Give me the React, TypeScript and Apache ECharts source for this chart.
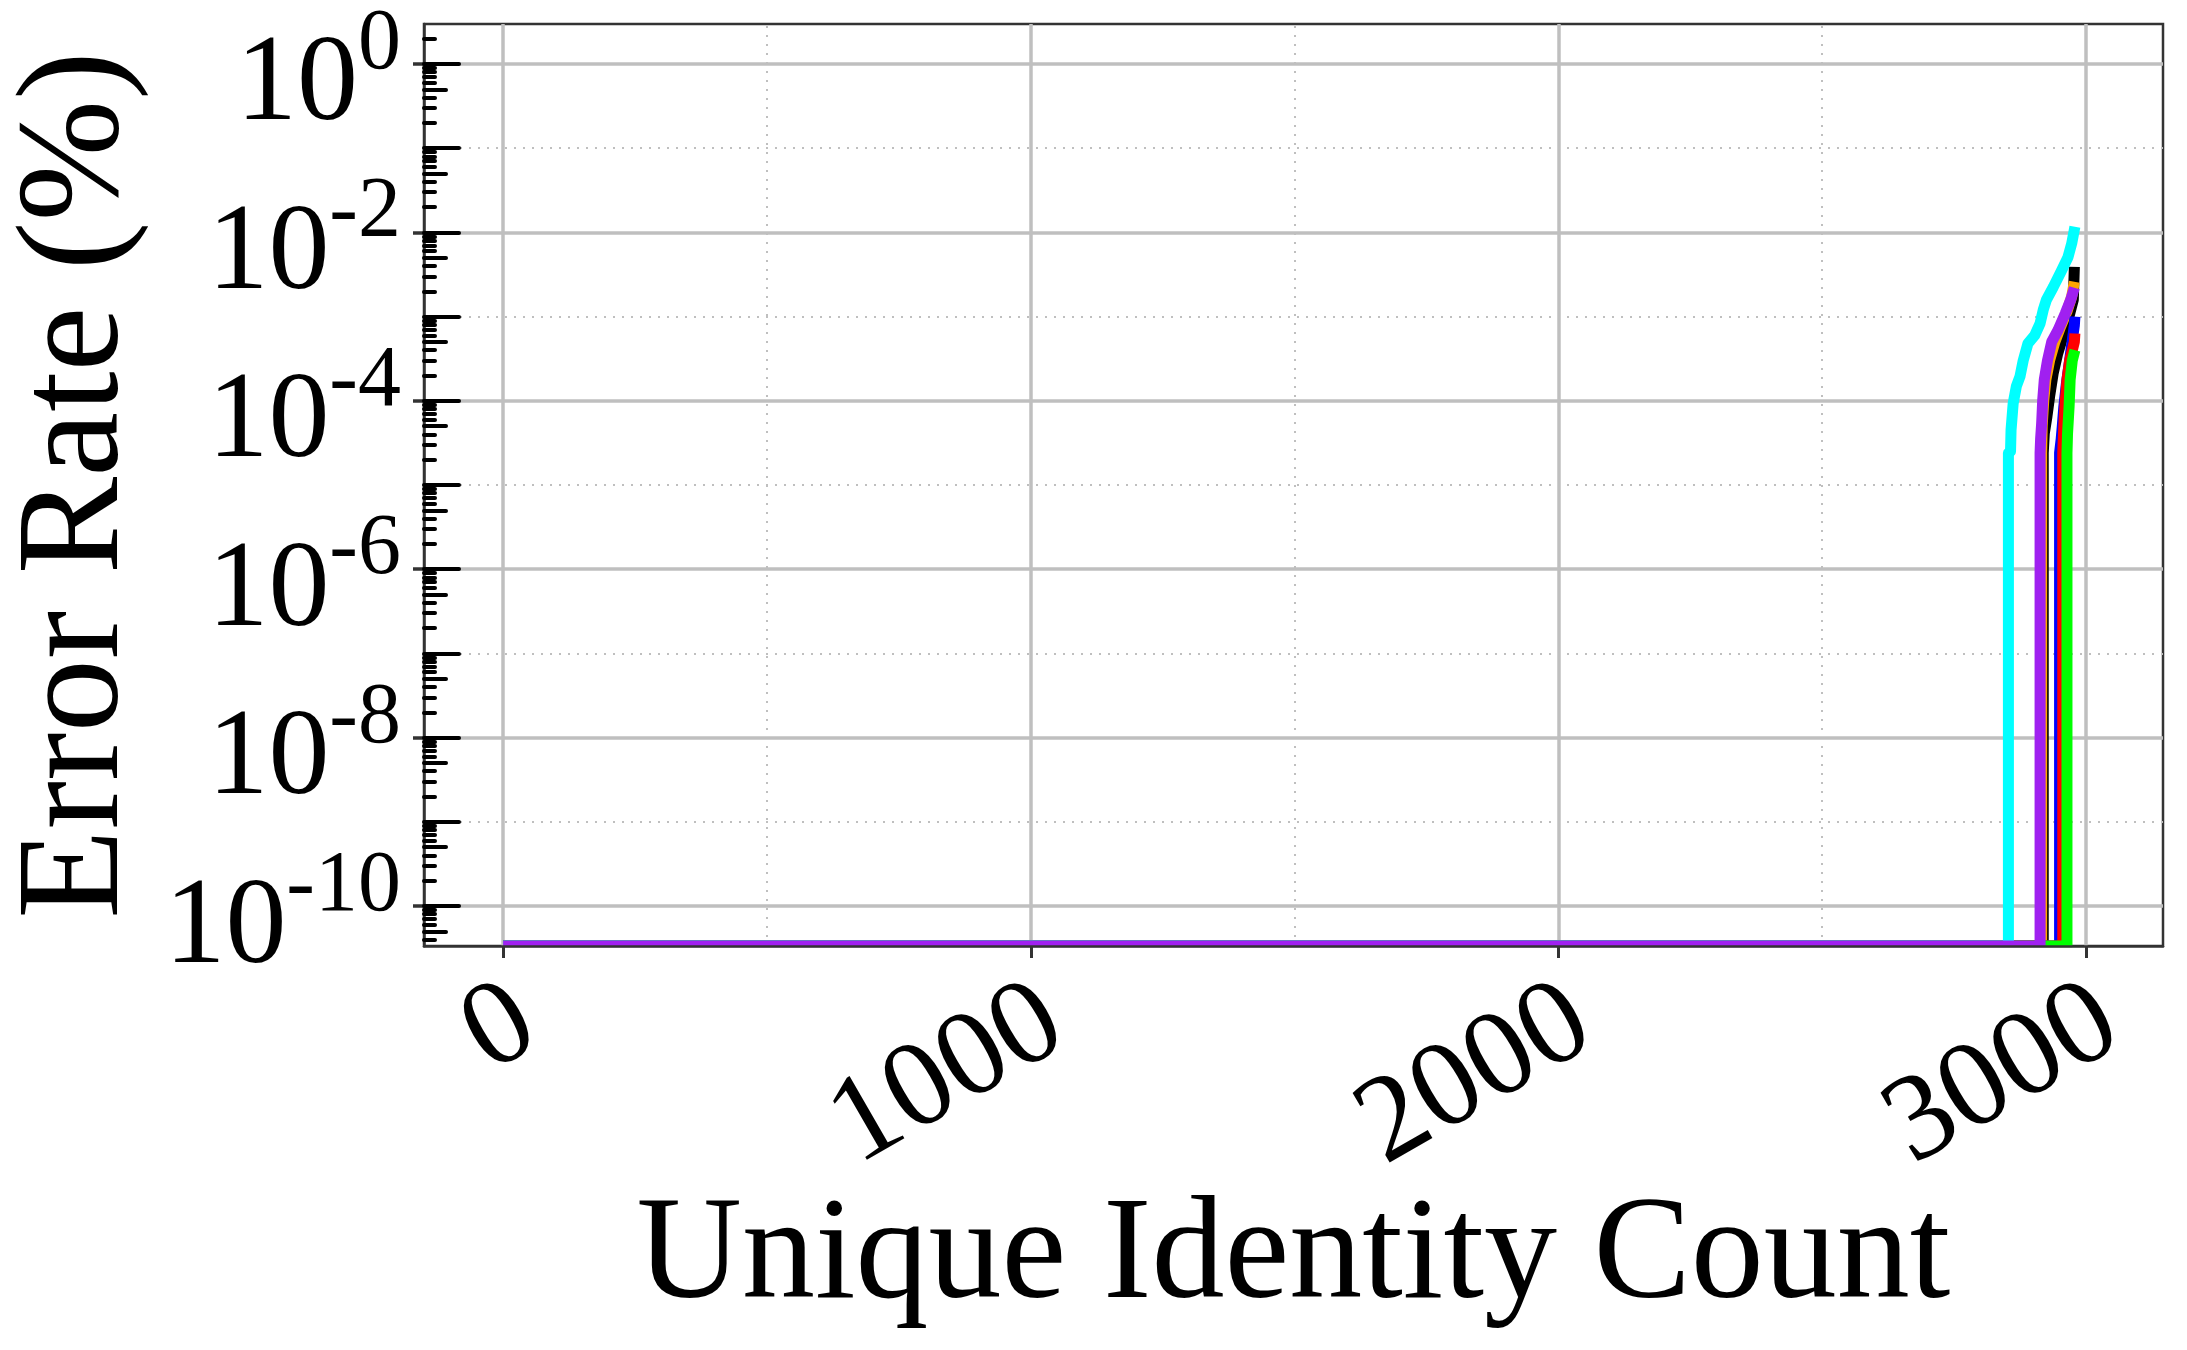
import React, { useEffect, useRef } from "react";
import * as echarts from "echarts";

const FONT = "'Liberation Serif', 'Times New Roman', serif";

// axis ranges (log axis on y)
const X_MIN = -150;
const X_MAX = 3146;
const Y_MIN = Math.pow(10, -10.475);
const Y_MAX = Math.pow(10, 0.475);

// ticks / grid
const xTicks = [0, 1000, 2000, 3000];
const xMinorGrid = [500, 1500, 2500];
const yLabelTicks = [1e-10, 1e-8, 1e-6, 1e-4, 1e-2, 1];
const yDecades = [1e-10, 1e-9, 1e-8, 1e-7, 1e-6, 1e-5, 1e-4, 1e-3, 1e-2, 1e-1, 1];
const yMinorGrid = [1e-9, 1e-7, 1e-5, 1e-3, 1e-1];
const yHalfTicks = [5e-11, 5e-10, 5e-9, 5e-8, 5e-7, 5e-6, 5e-5, 5e-4, 5e-3, 5e-2, 5e-1];
const minorMultipliers = [2, 3, 4, 6, 7, 8, 9];
const minorDecades = [1e-11, 1e-10, 1e-9, 1e-8, 1e-7, 1e-6, 1e-5, 1e-4, 1e-3, 1e-2, 1e-1, 1];

// series (x = identity index, y = error rate %, 0 = no error)
const blackX = [0, 2919, 2919, 2921, 2926, 2931, 2938, 2946, 2954, 2966, 2976, 2978];
const blackY = [0, 0, 2.4e-5, 4.1e-5, 6.5e-5, 1.12e-4, 2.14e-4, 3.55e-4, 5.2e-4, 9.1e-4, 1.58e-3, 3.9e-3];

const orangeX = [0, 2916, 2916, 2917, 2920, 2924, 2931, 2941, 2952, 2964, 2973, 2978];
const orangeY = [0, 0, 2.4e-5, 5.0e-5, 1.02e-4, 1.78e-4, 3.0e-4, 5.0e-4, 7.6e-4, 1.15e-3, 1.74e-3, 2.6e-3];

const blueX = [0, 2950, 2950, 2953, 2955, 2958, 2963, 2969, 2974, 2978, 2979];
const blueY = [0, 0, 2.4e-5, 3.5e-5, 4.9e-5, 8.5e-5, 1.62e-4, 3.0e-4, 5.2e-4, 7.9e-4, 1.0e-3];

const redX = [0, 2956, 2956, 2957, 2958, 2960, 2964, 2969, 2975, 2978, 2979];
const redY = [0, 0, 2.4e-5, 3.5e-5, 5.0e-5, 8.5e-5, 1.78e-4, 3.0e-4, 4.2e-4, 5.0e-4, 6.3e-4];

const greenX = [0, 2964, 2964, 2965, 2968, 2970, 2974, 2979];
const greenY = [0, 0, 2.4e-5, 4.0e-5, 8.5e-5, 1.78e-4, 3.0e-4, 4.0e-4];

const cyanX = [0, 2853, 2853, 2857, 2858, 2862, 2868, 2875, 2881, 2890, 2903, 2913, 2919, 2925, 2938, 2954, 2966, 2973, 2979];
const cyanY = [0, 0, 2.4e-5, 2.5e-5, 4.5e-5, 9.3e-5, 1.48e-4, 1.95e-4, 3.0e-4, 4.8e-4, 6.0e-4, 8.3e-4, 1.2e-3, 1.58e-3, 2.24e-3, 3.55e-3, 5.1e-3, 7.4e-3, 1.17e-2];

const purpleX = [0, 2913, 2913, 2914, 2916, 2918, 2921, 2927, 2935, 2947, 2961, 2971, 2978];
const purpleY = [0, 0, 2.4e-5, 3.5e-5, 5.4e-5, 1.02e-4, 1.78e-4, 3.0e-4, 5.0e-4, 6.9e-4, 1.1e-3, 1.58e-3, 2.2e-3];

const seriesDefs = [
  { name: "black", color: "#000000", xs: blackX, ys: blackY },
  { name: "orange", color: "#ffa500", xs: orangeX, ys: orangeY },
  { name: "blue", color: "#0000ff", xs: blueX, ys: blueY },
  { name: "red", color: "#ff0000", xs: redX, ys: redY },
  { name: "green", color: "#00ff00", xs: greenX, ys: greenY },
  { name: "cyan", color: "#00ffff", xs: cyanX, ys: cyanY },
  { name: "purple", color: "#a020f0", xs: purpleX, ys: purpleY },
];

const GRID_COLOR = "#bfbfbf";
const AXIS_COLOR = "#333333";
const LINE_W = 11;

const GRID_LEFT = 424;
const GRID_RIGHT = 24;
const GRID_TOP = 24;
const GRID_BOTTOM = 404;
const CHART_W = 2187;
const CHART_H = 1350;

function buildOption() {
  const smallTicks: number[] = [];
  minorDecades.forEach((d) => minorMultipliers.forEach((m) => smallTicks.push(d * m)));

  const majorLine = { color: GRID_COLOR, width: 3.5, type: "solid" };
  const minorLine = { color: GRID_COLOR, width: 2, type: [2, 7] };

  const markData: any[] = [];
  xTicks.forEach((v) => markData.push({ xAxis: v, lineStyle: majorLine }));
  xMinorGrid.forEach((v) => markData.push({ xAxis: v, lineStyle: minorLine }));
  yLabelTicks.forEach((v) => markData.push({ yAxis: v, lineStyle: majorLine }));
  yMinorGrid.forEach((v) => markData.push({ yAxis: v, lineStyle: minorLine }));

  const innerAxis = (values: number[], length: number) => ({
    type: "log",
    logBase: 10,
    min: Y_MIN,
    max: Y_MAX,
    position: "left",
    offset: 0,
    z: 10,
    axisLine: { show: false, onZero: false },
    axisLabel: { show: false },
    splitLine: { show: false },
    minorTick: { show: false },
    axisTick: {
      show: true,
      inside: true,
      customValues: values,
      length,
      lineStyle: { color: "#000000", width: 4, cap: "round" },
    },
  });

  const plotBottom = CHART_H - GRID_BOTTOM;

  return {
    animation: false,
    backgroundColor: "#ffffff",
    grid: {
      left: GRID_LEFT,
      right: GRID_RIGHT,
      top: GRID_TOP,
      bottom: GRID_BOTTOM,
      show: true,
      borderColor: AXIS_COLOR,
      borderWidth: 2.5,
      backgroundColor: "transparent",
      containLabel: false,
      outerBoundsMode: "none",
    },
    // white strip just below the bottom spine (matplotlib clips lines at the axes edge)
    graphic: [
      {
        type: "rect",
        silent: true,
        z: 8,
        shape: { x: GRID_LEFT + 1.5, y: plotBottom + 1.3, width: CHART_W - GRID_LEFT - GRID_RIGHT - 3, height: 6 },
        style: { fill: "#ffffff" },
      },
    ],
    xAxis: {
      type: "value",
      min: X_MIN,
      max: X_MAX,
      position: "bottom",
      z: 10,
      axisLine: { show: true, onZero: false, lineStyle: { color: AXIS_COLOR, width: 2.5 } },
      axisTick: { show: true, customValues: xTicks, length: 12, lineStyle: { color: AXIS_COLOR, width: 3 } },
      axisLabel: {
        customValues: xTicks,
        formatter: (v: number) => String(v),
        rotate: 30,
        fontSize: 123,
        fontFamily: FONT,
        color: "#000000",
        align: "right",
        verticalAlign: "top",
        lineHeight: 76,
        margin: 27.5,
        hideOverlap: false,
      },
      splitLine: { show: false },
      name: "Unique Identity Count",
      nameLocation: "middle",
      nameGap: 229,
      nameMoveOverlap: false,
      nameTextStyle: { fontSize: 146, fontFamily: FONT, color: "#000000" },
    },
    yAxis: [
      {
        type: "log",
        logBase: 10,
        min: Y_MIN,
        max: Y_MAX,
        position: "left",
        z: 10,
        axisLine: { show: true, onZero: false, lineStyle: { color: AXIS_COLOR, width: 2.5 } },
        axisTick: { show: true, customValues: yLabelTicks, length: 11, lineStyle: { color: AXIS_COLOR, width: 3.5 } },
        axisLabel: {
          customValues: yLabelTicks,
          margin: 23,
          formatter: (v: number) => {
            const e = Math.round(Math.log10(v));
            return `{b|10}{s|${e}}`;
          },
          rich: {
            b: { fontSize: 122, lineHeight: 90, fontFamily: FONT, color: "#000000", padding: [28, 0, 0, 0] },
            s: { fontSize: 86, lineHeight: 60, fontFamily: FONT, color: "#000000", padding: [0, 0, 50, 0] },
          },
        },
        splitLine: { show: false },
        minorTick: { show: false },
        name: "Error Rate (%)",
        nameLocation: "middle",
        nameRotate: 90,
        nameGap: 296,
        nameMoveOverlap: false,
        nameTextStyle: { fontSize: 146, lineHeight: 120, fontFamily: FONT, color: "#000000" },
      },
      innerAxis(yDecades, 35),
      innerAxis(yHalfTicks, 22),
      innerAxis(smallTicks, 11),
    ],
    series: [
      {
        type: "line",
        name: "grid",
        data: [[0, 1]],
        symbol: "none",
        showSymbol: false,
        silent: true,
        lineStyle: { opacity: 0 },
        z: 1,
        markLine: {
          silent: true,
          symbol: ["none", "none"],
          precision: 15,
          label: { show: false },
          emphasis: { disabled: true },
          animation: false,
          z: 1,
          data: markData,
        },
      },
      ...seriesDefs.map((s) => ({
        type: "line",
        name: s.name,
        data: s.xs.map((x, i) => [x, s.ys[i] > 0 ? s.ys[i] : Y_MIN]),
        symbol: "none",
        showSymbol: false,
        silent: true,
        clip: true,
        z: 6,
        lineStyle: { color: s.color, width: LINE_W, cap: "butt", join: "round" },
      })),
    ],
  };
}

export default function App() {
  const ref = useRef<HTMLDivElement>(null);
  useEffect(() => {
    document.body.style.margin = "0";
    if (!ref.current) return;
    const chart = echarts.init(ref.current, undefined, { renderer: "svg" });
    chart.setOption(buildOption() as any);
    return () => chart.dispose();
  }, []);
  return (
    <div
      ref={ref}
      style={{ position: "fixed", left: 0, top: 0, width: CHART_W, height: CHART_H, background: "#ffffff" }}
    />
  );
}
